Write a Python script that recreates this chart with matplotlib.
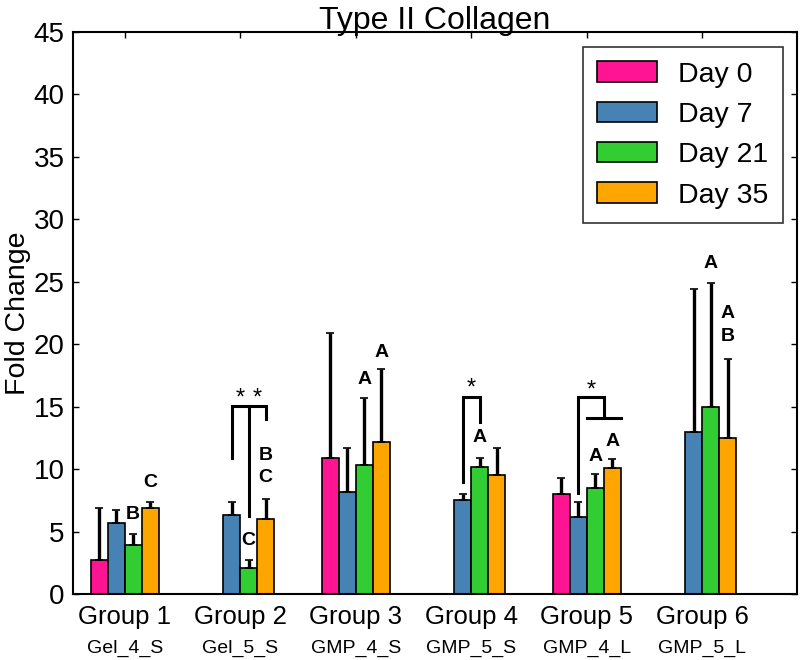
import numpy as np
import matplotlib
matplotlib.use("Agg")
import matplotlib.pyplot as plt
from matplotlib.patches import Patch

plt.rcParams['font.family'] = ['Liberation Sans', 'DejaVu Sans']

# data (NaN = no bar)
groups = ["Group 1", "Group 2", "Group 3", "Group 4", "Group 5", "Group 6"]
sublabels = ["Gel_4_S", "Gel_5_S", "GMP_4_S", "GMP_5_S", "GMP_4_L", "GMP_5_L"]
days = ["Day 0", "Day 7", "Day 21", "Day 35"]
colors = ["#ff1493", "#4682b4", "#32cd32", "#ffa500"]

day0 = [2.7, np.nan, 10.9, np.nan, 8.0, np.nan]
day7 = [5.7, 6.3, 8.2, 7.5, 6.2, 13.0]
day21 = [3.9, 2.1, 10.3, 10.2, 8.5, 15.0]
day35 = [6.9, 6.0, 12.2, 9.5, 10.1, 12.5]

err0 = [4.2, np.nan, 10.0, np.nan, 1.3, np.nan]
err7 = [1.0, 1.1, 3.5, 0.5, 1.2, 11.4]
err21 = [0.9, 0.6, 5.4, 0.7, 1.1, 9.9]
err35 = [0.5, 1.6, 5.8, 2.2, 0.7, 6.3]

# significance letters: (group index, bar index, text, y)
letters = [
    (0, 2, "B", 6.4), (0, 3, "C", 8.9),
    (1, 2, "C", 4.3), (1, 3, "B", 11.1), (1, 3, "C", 9.3),
    (2, 2, "A", 17.2), (2, 3, "A", 19.3),
    (3, 2, "A", 12.5),
    (4, 2, "A", 11.05), (4, 3, "A", 12.2),
    (5, 2, "A", 26.5), (5, 3, "A", 22.5), (5, 3, "B", 20.6),
]

means = [day0, day7, day21, day35]
errs = [err0, err7, err21, err35]

fig = plt.figure(figsize=(8, 6.6), dpi=100)
ax = fig.add_axes([0.091, 0.1, 0.905, 0.8515])

x = np.arange(1, len(groups) + 1)
w = 0.147
offs = [-1.5, -0.5, 0.5, 1.5]

for i in range(4):
    xs = x + offs[i] * w
    ax.bar(xs, means[i], width=w, color=colors[i], edgecolor="black",
           linewidth=1.2, zorder=2)
    ax.errorbar(xs, means[i], yerr=[np.zeros(len(groups)), errs[i]],
                fmt="none", ecolor="black", elinewidth=2.4, capsize=3,
                capthick=1.2, zorder=3)

for g, b, t, y in letters:
    ax.text(x[g] + offs[b] * w, y, t, ha="center", va="center",
            fontsize=14, fontweight="bold")


def bx(g, pos):
    return x[g] + pos * w


lk = dict(color="black", lw=2.2, zorder=4, solid_joinstyle="miter")
# group 2 brackets
ax.plot([bx(1, -0.5), bx(1, -0.5), bx(1, 1.5), bx(1, 1.5)],
        [10.9, 15.05, 15.05, 14.0], **lk)
ax.plot([bx(1, 0.5), bx(1, 0.5)], [15.05, 6.25], **lk)
ax.text(bx(1, 0), 15.2, "*", ha="center", va="baseline", fontsize=17)
ax.text(bx(1, 1), 15.2, "*", ha="center", va="baseline", fontsize=17)
# group 4 bracket
ax.plot([bx(3, -0.5), bx(3, -0.5), bx(3, 0.5), bx(3, 0.5)],
        [9.0, 15.75, 15.75, 13.8], **lk)
ax.text(bx(3, 0), 16.0, "*", ha="center", va="baseline", fontsize=17)
# group 5 bracket
ax.plot([bx(4, -0.5), bx(4, -0.5), bx(4, 1.0), bx(4, 1.0)],
        [8.1, 15.8, 15.8, 14.1], **lk)
ax.plot([bx(4, 0), bx(4, 2.0)], [14.1, 14.1], **lk)
ax.text(bx(4, 0.25), 15.8, "*", ha="center", va="baseline", fontsize=17)

ax.set_xlim(0.55, 6.82)
ax.set_ylim(0, 45)
ax.set_yticks(np.arange(0, 46, 5))
ax.set_xticks(x)
ax.set_xticklabels(groups, fontsize=18.5)
ax.tick_params(axis="both", direction="in", length=4, width=1,
               top=True, right=True)
ax.tick_params(axis="y", labelsize=20, pad=6)
ax.tick_params(axis="x", pad=8)
for s in ax.spines.values():
    s.set_linewidth(1.5)

for i, s in enumerate(sublabels):
    ax.text(x[i], -0.096, s, transform=ax.get_xaxis_transform(),
            ha="center", va="center", fontsize=14)

ax.set_ylabel("Fold Change", fontsize=20.5, labelpad=2)
ax.set_title("Type II Collagen", fontsize=23, pad=2)

handles = [Patch(facecolor=c, edgecolor="black", linewidth=1.2) for c in colors]
leg = ax.legend(handles, days, loc="upper right", fontsize=20.5,
                frameon=True, fancybox=False, edgecolor="black",
                handlelength=2.1, handleheight=0.72, labelspacing=0.5,
                borderpad=0.5, borderaxespad=0, handletextpad=0.75,
                bbox_to_anchor=(0.981, 0.973))
leg.get_frame().set_linewidth(1.2)

fig.savefig("out.png", dpi=100)
